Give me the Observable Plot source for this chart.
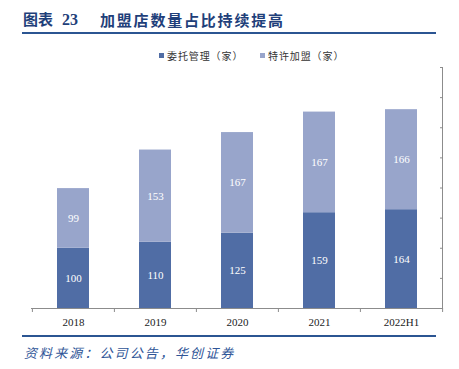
<!DOCTYPE html>
<html>
<head>
<meta charset="utf-8">
<script src="https://cdn.jsdelivr.net/npm/d3@7"></script>
<script src="https://cdn.jsdelivr.net/npm/@observablehq/plot@0.6"></script>
<style>
  html, body { margin: 0; padding: 0; background: #fff; }
  #wrap { position: relative; width: 459px; height: 369px; overflow: hidden; font-family: "Noto Sans CJK SC", sans-serif; }
  .abs { position: absolute; white-space: nowrap; }
  .title { top: 11px; height: 18px; line-height: 18px; font-size: 15px; font-weight: bold; color: #1F3F7A; }
  #title1 { left: 23px; font-family: "Liberation Serif", "Noto Sans CJK SC", serif; }
  #title1 .num { margin-left: 9px; font-size: 16px; }
  #title2 { left: 100px; letter-spacing: 1.8px; }
  #tline { left: 22px; top: 32px; width: 414px; height: 2px; background: #2B5592; }
  .sw { width: 5px; height: 5px; }
  .lt { font-size: 10px; line-height: 12px; color: #333; letter-spacing: 0.9px; }
  #cline { left: 22px; top: 335px; width: 414px; height: 1.5px; background: #2B5592; }
  #caption { left: 24px; top: 344px; font-size: 13px; line-height: 18px; letter-spacing: 2.1px; color: #2F5597; font-style: italic; }
  #chart { left: 0; top: 60px; }
  #chart svg text { font-family: "Liberation Serif", serif; }
</style>
</head>
<body>
<div id="wrap">
  <div id="title1" class="abs title">图表<span class="num">23</span></div>
  <div id="title2" class="abs title">加盟店数量占比持续提高</div>
  <div id="tline" class="abs"></div>
  <div id="legend"></div>
  <div id="chart" class="abs"></div>
  <div id="cline" class="abs"></div>
  <div id="caption" class="abs">资料来源：公司公告，华创证券</div>
</div>
<script>
const years = ["2018", "2019", "2020", "2021", "2022H1"];
const managed = [100, 110, 125, 159, 164];
const franchised = [99, 153, 167, 167, 166];
const seriesNames = ["委托管理（家）", "特许加盟（家）"];
const colors = ["#506DA5", "#98A5CB"];
const yTicks = [0, 50, 100, 150, 200, 250, 300, 350, 400];

const data = years.flatMap((yr, i) => [
  {year: yr, series: seriesNames[0], value: managed[i]},
  {year: yr, series: seriesNames[1], value: franchised[i]}
]);

// legend
const legend = document.getElementById("legend");
const legendPos = [{sq: 159, tx: 167}, {sq: 260, tx: 268}];
seriesNames.forEach((name, i) => {
  const sq = document.createElement("div");
  sq.className = "abs sw";
  sq.style.left = legendPos[i].sq + "px";
  sq.style.top = "53px";
  sq.style.background = colors[i];
  legend.appendChild(sq);
  const t = document.createElement("div");
  t.className = "abs lt";
  t.style.left = legendPos[i].tx + "px";
  t.style.top = "49.5px";
  t.textContent = name;
  legend.appendChild(t);
});

const W = 459, ML = 31, MR = 17;
const step = (W - ML - MR) / years.length;
const axisColor = "#8C8C8C";
const serif = "Liberation Serif";

const chart = Plot.plot({
  width: W,
  height: 270,
  marginTop: 7,
  marginBottom: 22,
  marginLeft: ML,
  marginRight: MR,
  style: {background: "transparent", overflow: "visible", fontFamily: serif},
  x: {domain: years, paddingInner: 0.61, paddingOuter: 0.305, label: null},
  y: {domain: [0, 400], ticks: yTicks, label: null},
  color: {domain: seriesNames, range: colors},
  marks: [
    Plot.barY(data, {x: "year", y: "value", fill: "series"}),
    Plot.text(data, Plot.stackY({x: "year", y: "value", z: "series", text: d => String(d.value), fill: "white", fontSize: 11, fontFamily: serif})),
    Plot.ruleY([0], {stroke: axisColor, strokeWidth: 1}),
    Plot.axisX({tickSize: 0, tickPadding: 10, fontSize: 11, fontFamily: serif, fill: "#222"}),
    Plot.axisX({tickSize: 4, text: null, dx: -step / 2, stroke: axisColor}),
    Plot.axisX([years[years.length - 1]], {tickSize: 4, text: null, dx: step / 2, stroke: axisColor}),
    Plot.axisY({anchor: "right", ticks: yTicks, tickSize: 3, dx: -3, text: null, stroke: axisColor}),
    Plot.frame({anchor: "right", stroke: axisColor})
  ]
});
document.getElementById("chart").appendChild(chart);
</script>
</body>
</html>
